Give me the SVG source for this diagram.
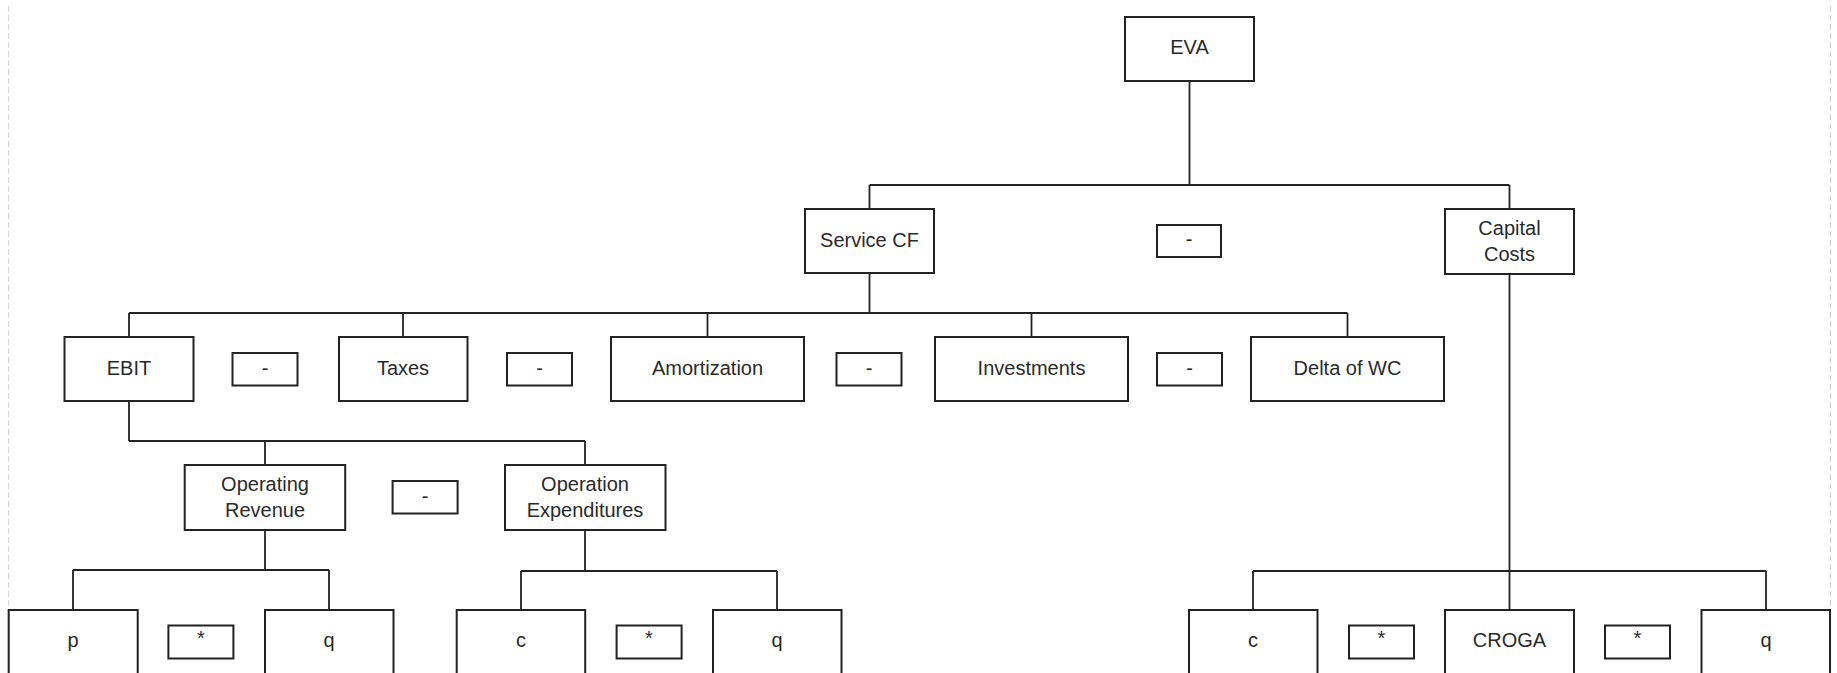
<svg xmlns="http://www.w3.org/2000/svg" width="1837" height="673" viewBox="0 0 1837 673">
<style>
.b{fill:#fff;stroke:#222;stroke-width:2}
.t{font-family:"Liberation Sans",Arial,sans-serif;font-size:20px;fill:#2a2a2a;text-anchor:middle}
.c{fill:none;stroke:#222;stroke-width:1.8}
.g{stroke:#d6d6d6;stroke-width:1.2;stroke-dasharray:6 3}
</style>
<rect width="1837" height="673" fill="#fff"/>
<line class="g" x1="8.5" y1="6" x2="8.5" y2="673"/>
<line class="g" x1="1830.5" y1="6" x2="1830.5" y2="673"/>
<g id="connectors">
<path class="c" d="M1189.5 81V185M869.5 185H1509.5M869.5 185V209M1509.5 185V209"/>
<path class="c" d="M869.5 273V313M129 313H1347.5M129 313V337M403 313V337M707.5 313V337M1031.5 313V337M1347.5 313V337"/>
<path class="c" d="M129 401V441M129 441H585M265 441V465M585 441V465"/>
<path class="c" d="M265 530V570M73 570H329M73 570V610M329 570V610"/>
<path class="c" d="M585 530V571M521 571H777M521 571V610M777 571V610"/>
<path class="c" d="M1509.5 274V610M1253 571H1766M1253 571V610M1766 571V610"/>
</g>
<g id="n-eva"><rect class="b" x="1125" y="17" width="129" height="64"/><text class="t" x="1189.5" y="54">EVA</text></g>
<g id="n-servicecf"><rect class="b" x="805" y="209" width="129" height="64"/><text class="t" x="869.5" y="246.5">Service CF</text></g>
<g id="op-minus-top"><rect class="b" x="1157" y="225" width="64" height="32"/><text class="t" x="1189" y="246">-</text></g>
<g id="n-capitalcosts"><rect class="b" x="1445" y="209" width="129" height="65"/><text class="t" x="1509.5" y="235">Capital</text><text class="t" x="1509.5" y="260.5">Costs</text></g>
<g id="n-ebit"><rect class="b" x="64.5" y="337" width="129" height="64"/><text class="t" x="129" y="375">EBIT</text></g>
<g id="op-m1"><rect class="b" x="232.5" y="353" width="65" height="32.5"/><text class="t" x="265" y="374.5">-</text></g>
<g id="n-taxes"><rect class="b" x="339" y="337" width="128.5" height="64"/><text class="t" x="403" y="375">Taxes</text></g>
<g id="op-m2"><rect class="b" x="507" y="353" width="65" height="32.5"/><text class="t" x="539.5" y="374.5">-</text></g>
<g id="n-amortization"><rect class="b" x="611" y="337" width="193" height="64"/><text class="t" x="707.5" y="375">Amortization</text></g>
<g id="op-m3"><rect class="b" x="836.5" y="353" width="65" height="32.5"/><text class="t" x="869" y="374.5">-</text></g>
<g id="n-investments"><rect class="b" x="935" y="337" width="193" height="64"/><text class="t" x="1031.5" y="375">Investments</text></g>
<g id="op-m4"><rect class="b" x="1157" y="353" width="65" height="32.5"/><text class="t" x="1189.5" y="374.5">-</text></g>
<g id="n-deltawc"><rect class="b" x="1251" y="337" width="193" height="64"/><text class="t" x="1347.5" y="375">Delta of WC</text></g>
<g id="n-oprev"><rect class="b" x="184.7" y="465" width="160.5" height="65"/><text class="t" x="265" y="491">Operating</text><text class="t" x="265" y="517">Revenue</text></g>
<g id="op-m5"><rect class="b" x="392.6" y="481" width="65" height="32.5"/><text class="t" x="425" y="502.5">-</text></g>
<g id="n-opexp"><rect class="b" x="505" y="465" width="160.5" height="65"/><text class="t" x="585" y="491">Operation</text><text class="t" x="585" y="517">Expenditures</text></g>
<g id="n-p"><rect class="b" x="8.7" y="610" width="129" height="64"/><text class="t" x="73" y="646.5">p</text></g>
<g id="op-s1"><rect class="b" x="168.4" y="625.5" width="65" height="33"/><text class="t" x="201" y="645">*</text></g>
<g id="n-q1"><rect class="b" x="265" y="610" width="128.5" height="64"/><text class="t" x="329" y="646.5">q</text></g>
<g id="n-c1"><rect class="b" x="456.7" y="610" width="128.5" height="64"/><text class="t" x="521" y="646.5">c</text></g>
<g id="op-s2"><rect class="b" x="616.6" y="625.5" width="65" height="33"/><text class="t" x="649" y="645">*</text></g>
<g id="n-q2"><rect class="b" x="713" y="610" width="128.5" height="64"/><text class="t" x="777" y="646.5">q</text></g>
<g id="n-c2"><rect class="b" x="1189" y="610" width="128.5" height="64"/><text class="t" x="1253" y="646.5">c</text></g>
<g id="op-s3"><rect class="b" x="1349" y="625.5" width="65" height="33"/><text class="t" x="1381.5" y="645">*</text></g>
<g id="n-croga"><rect class="b" x="1445" y="610" width="129" height="64"/><text class="t" x="1509.5" y="646.5">CROGA</text></g>
<g id="op-s4"><rect class="b" x="1605" y="625.5" width="65" height="33"/><text class="t" x="1637.5" y="645">*</text></g>
<g id="n-q3"><rect class="b" x="1701.5" y="610" width="128.5" height="64"/><text class="t" x="1766" y="646.5">q</text></g>
</svg>
